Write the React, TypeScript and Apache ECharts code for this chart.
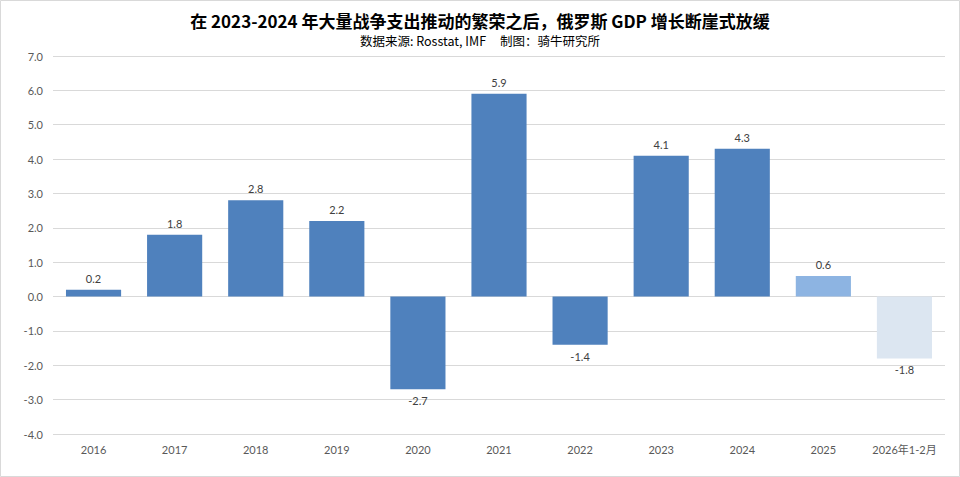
import React, { useEffect, useRef } from "react";
import * as echarts from "echarts";

const categories = ["2016", "2017", "2018", "2019", "2020", "2021", "2022", "2023", "2024", "2025", "2026年1-2月"];
const values = [0.2, 1.8, 2.8, 2.2, -2.7, 5.9, -1.4, 4.1, 4.3, 0.6, -1.8];
const barColors = ["#4F81BD", "#4F81BD", "#4F81BD", "#4F81BD", "#4F81BD", "#4F81BD", "#4F81BD", "#4F81BD", "#4F81BD", "#8DB4E2", "#DCE6F1"];
const titleText = "在 2023-2024 年大量战争支出推动的繁荣之后，俄罗斯 GDP 增长断崖式放缓";
const subtitleText = "数据来源: Rosstat, IMF     制图：骑牛研究所";

const FONT = "Lato, 'Noto Sans CJK SC', sans-serif";

export default function App() {
  const ref = useRef<HTMLDivElement>(null);
  useEffect(() => {
    document.body.style.margin = "0";
    const chart = echarts.init(ref.current!, null, { renderer: "svg" });
    chart.setOption({
      animation: false,
      backgroundColor: "#FFFFFF",
      title: [
        {
          text: titleText,
          left: "center",
          top: 10,
          padding: 0,
          textStyle: { fontFamily: "'Noto Sans CJK SC', sans-serif", fontSize: 17, fontWeight: "bold", color: "#000000", lineHeight: 20 },
        },
        {
          text: subtitleText,
          left: "center",
          top: 33,
          padding: 0,
          textStyle: { fontFamily: "'Noto Sans CJK SC', sans-serif", fontSize: 12.5, fontWeight: "normal", color: "#000000", lineHeight: 15 },
        },
      ],
      graphic: [
        {
          type: "rect",
          shape: { x: 0.5, y: 0.5, width: 959, height: 476 },
          style: { fill: "none", stroke: "#D9D9D9", lineWidth: 1 },
          silent: true,
        },
      ],
      grid: { left: 53, right: 15, top: 56, bottom: 43 },
      xAxis: {
        type: "category",
        data: categories,
        axisLine: { show: false, onZero: false },
        axisTick: { show: false },
        axisLabel: { color: "#595959", fontFamily: FONT, fontSize: 11, margin: 10, interval: 0 },
      },
      yAxis: {
        type: "value",
        min: -4,
        max: 7,
        interval: 1,
        axisLabel: {
          color: "#595959",
          fontFamily: FONT,
          fontSize: 11,
          margin: 10,
          formatter: (v: number) => v.toFixed(1),
        },
        splitLine: { lineStyle: { color: "#D9D9D9", width: 1 } },
        axisLine: { show: false },
        axisTick: { show: false },
      },
      series: [
        {
          type: "bar",
          barCategoryGap: "32%",
          data: values.map((v, i) => ({
            value: v,
            itemStyle: { color: barColors[i] },
            label: { position: v >= 0 ? "top" : "bottom" },
          })),
          label: {
            show: true,
            color: "#404040",
            fontFamily: FONT,
            fontSize: 11,
            distance: 6,
            formatter: (p: any) => Number(p.value).toFixed(1),
          },
        },
      ],
    });
    return () => chart.dispose();
  }, []);
  return <div ref={ref} style={{ width: 960, height: 477 }} />;
}
